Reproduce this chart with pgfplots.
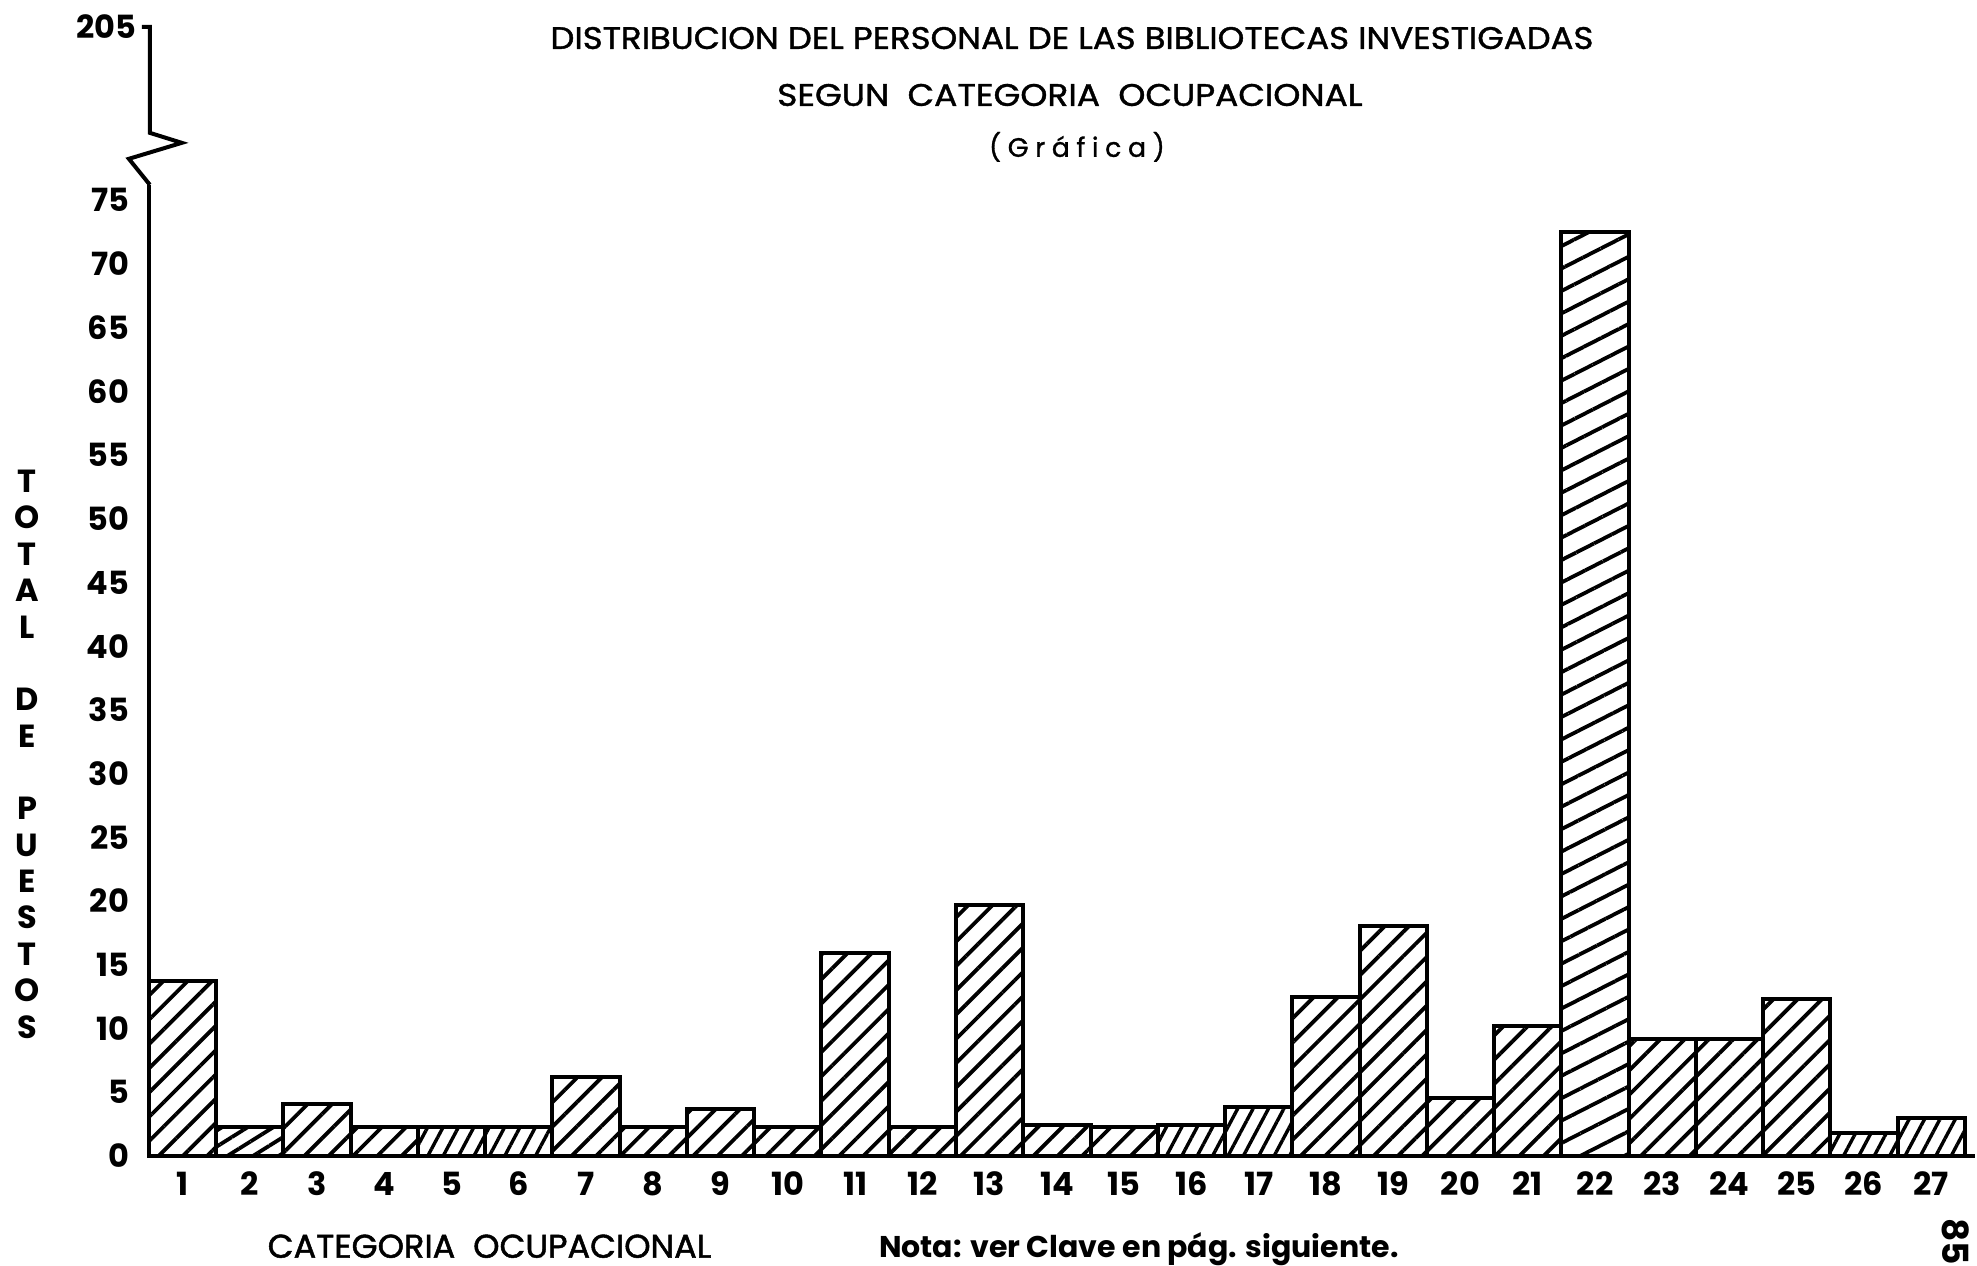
\documentclass[border=0pt]{standalone}
\usepackage{pgfplots}
\pgfplotsset{compat=1.18}
\usepackage{fontspec}
\setmainfont{Poppins}
\usetikzlibrary{patterns.meta}
\begin{document}
\begin{tikzpicture}
\begin{scope}[x=0.25pt,y=0.25pt]
\useasboundingbox (0,0) rectangle (1977,1267);
\end{scope}
\begin{axis}[
  at={(37.25pt,27.5pt)}, anchor=south west, scale only axis,
  width=457pt, height=243pt,
  xmin=0.5, xmax=27.65, ymin=0, ymax=76.2,
  axis lines=left,
  axis line style={-, line width=1pt},
  xtick={1,...,27}, ytick={0,5,...,75},
  major tick length=0pt,
  xtick style={draw=none}, ytick style={draw=none},
  /pgf/number format/assume math mode=true,
  yticklabel style={font=\bfseries\fontsize{8}{8}\selectfont, anchor=east, inner sep=0pt, xshift=-4.75pt},
  xticklabel style={font=\bfseries\fontsize{8}{8}\selectfont, anchor=base, inner sep=0pt, yshift=-10pt},
  clip=false,
]
\addplot[ybar, bar width=1, bar shift=0pt, draw=black, line width=1pt,
  pattern={Lines[angle=45,distance=4.3pt,line width=0.95pt]}]
  coordinates {(1,13.7) (3,4.1) (4,2.3) (7,6.2) (8,2.3) (9,3.7) (10,2.3) (11,15.9) (12,2.3) (13,19.7) (14,2.4) (15,2.3) (18,12.5) (19,18.0) (20,4.5) (21,10.2) (23,9.2) (24,9.2) (25,12.3)};
\addplot[ybar, bar width=1, bar shift=0pt, draw=black, line width=1pt,
  pattern={Lines[angle=27,distance=5pt,line width=0.95pt]}]
  coordinates {(22,72.5)};
\addplot[ybar, bar width=1, bar shift=0pt, draw=black, line width=1pt,
  pattern={Lines[angle=32,distance=3.4pt,line width=0.95pt]}]
  coordinates {(2,2.3)};
\addplot[ybar, bar width=1, bar shift=0pt, draw=black, line width=1pt,
  pattern={Lines[angle=62,distance=3.4pt,line width=0.85pt]}]
  coordinates {(5,2.3) (6,2.3) (16,2.4) (17,3.8) (26,1.8) (27,3.0)};
\end{axis}
\begin{scope}[x=0.25pt,y=0.25pt]
% axis break
\draw[line width=1pt, line join=miter] (150,1082) -- (129,1108) -- (182,1124) -- (150,1134) -- (150,1240) -- (142,1240);
\node[anchor=east, inner sep=0pt, font=\bfseries\fontsize{8}{8}\selectfont] at (137,1240) {205};
% titles
\node[anchor=base, inner sep=0pt] at (1073,1218) {\resizebox{261pt}{5.5pt}{\addfontfeatures{FakeBold=1.2}DISTRIBUCION DEL PERSONAL DE LAS BIBLIOTECAS INVESTIGADAS}};
\node[anchor=base, inner sep=0pt] at (1071,1161) {\resizebox{146.5pt}{5.5pt}{\addfontfeatures{FakeBold=1.2}SEGUN\ \ CATEGORIA\ \ OCUPACIONAL}};
\node[anchor=base, inner sep=0pt] at (1078,1110) {\resizebox{44pt}{!}{\addfontfeatures{LetterSpace=25,FakeBold=1.2}(Gráfica)}};
% y label
\node[align=center, inner sep=0pt, font=\bfseries\fontsize{8}{9.1}\selectfont] at (27,512)
  {T\\O\\T\\A\\L\\[9.1pt]D\\E\\[9.1pt]P\\U\\E\\S\\T\\O\\S};
% bottom texts
\node[anchor=base, inner sep=0pt] at (490,8) {\resizebox{111pt}{5.8pt}{\addfontfeatures{FakeBold=1.5}CATEGORIA\ \ OCUPACIONAL}};
\node[anchor=base, inner sep=0pt] at (1140,8) {\resizebox{130pt}{!}{\bfseries Nota: ver Clave en pág. siguiente.}};
\node[rotate=-90, inner sep=0pt, font=\bfseries\fontsize{9}{9}\selectfont] at (1958,24) {85};
\end{scope}
\end{tikzpicture}
\end{document}
